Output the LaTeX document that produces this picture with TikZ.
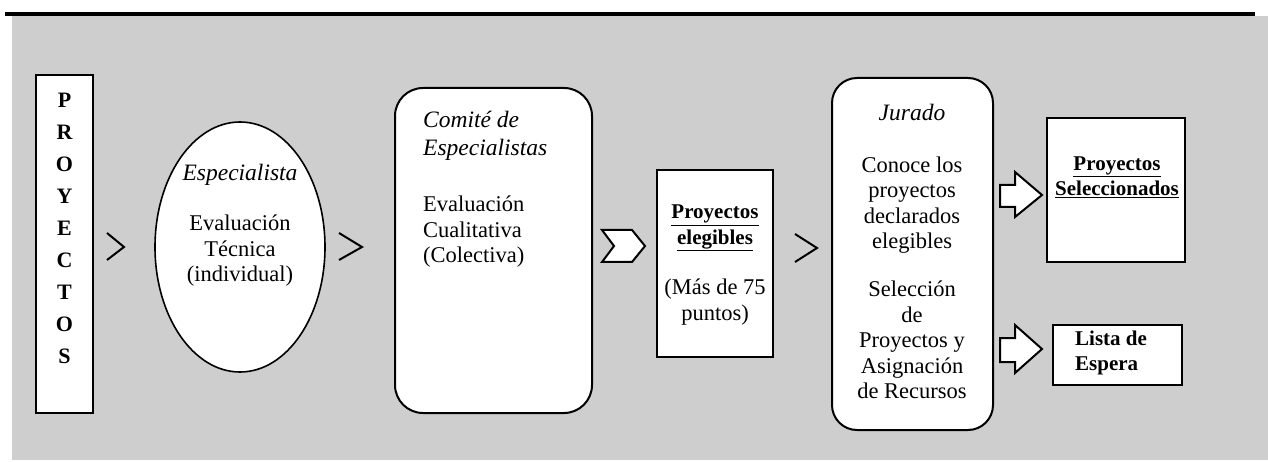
\documentclass[tikz,border=0pt]{standalone}
\usepackage{fontspec}
\setmainfont{Liberation Serif}
\usetikzlibrary{shapes.geometric}
\definecolor{bg}{RGB}{206,206,206}
\tikzset{
  boxstyle/.style={draw=black, fill=white, line width=2pt, inner sep=0pt},
  roundbox/.style={boxstyle, rounded corners=28pt},
  txt/.style={font=\fontsize{22.5}{25.5}\selectfont, inner sep=0pt},
  ittxt/.style={font=\fontsize{23.5}{28}\selectfont\itshape, inner sep=0pt},
  bftxt/.style={font=\fontsize{21}{25.5}\selectfont\bfseries, inner sep=0pt},
  chev/.style={draw=black, line width=2pt, line join=miter},
  blockarrow/.style={draw=black, fill=white, line width=2pt, line join=miter}
}
\begin{document}
\begin{tikzpicture}[x=1pt,y=-1pt]
\useasboundingbox (0,0) rectangle (1268,462);
\fill[bg] (12,16) rectangle (1268,460);
\draw[line width=4pt] (5,14) -- (1255,14);

% PROYECTOS
\node[boxstyle, minimum width=57pt, minimum height=338pt] (proy) at (64.5,244) {};
\node[bftxt, font=\fontsize{22}{32}\selectfont\bfseries, align=center] (proytxt) at (64.5,228) {P\\R\\O\\Y\\E\\C\\T\\O\\S};

% Especialista
\node[draw=black, fill=white, line width=1.6pt, ellipse, minimum width=170pt, minimum height=250pt] (esp) at (240,247) {};
\node[ittxt] (esptitle) at (240,175) {Especialista};
\node[txt, align=center] (esptxt) at (240,251) {Evaluación\\Técnica\\(individual)};

% Comite
\node[roundbox, minimum width=197pt, minimum height=325pt] (com) at (493.5,250.5) {};
\node[ittxt, align=left, anchor=west] (comtitle) at (423,136) {Comité de\\Especialistas};
\node[txt, align=left, anchor=west] (comtxt) at (423,232) {Evaluación\\Cualitativa\\(Colectiva)};

% Proyectos elegibles
\node[boxstyle, minimum width=116pt, minimum height=187pt] (eleg) at (715,263.5) {};
\node[bftxt, align=center] (elegtitle) at (715,228) {\underline{Proyectos}\\\underline{elegibles}};
\node[txt, align=center] (elegtxt) at (715,302) {(Más de 75\\puntos)};

% Jurado
\node[roundbox, rounded corners=25pt, minimum width=161pt, minimum height=352pt] (jur) at (912.5,254) {};
\node[ittxt] (jurtitle) at (912,112) {Jurado};
\node[txt, align=center] (jurtxt1) at (912,205) {Conoce los\\proyectos\\declarados\\elegibles};
\node[txt, align=center] (jurtxt2) at (912,340) {Selección\\de\\Proyectos y\\Asignación\\de Recursos};

% Proyectos seleccionados
\node[boxstyle, minimum width=138pt, minimum height=144pt] (sel) at (1116,190) {};
\node[bftxt, align=center] (seltxt) at (1117,177) {\underline{Proyectos}\\\underline{Seleccionados}};

% Lista de espera
\node[boxstyle, minimum width=129pt, minimum height=60pt] (lista) at (1117.5,355) {};
\node[bftxt, align=left, anchor=west] (listatxt) at (1075,353) {Lista de\\Espera};

% chevrons
\draw[chev] (107,233) -- (124,247) -- (107,260);
\draw[chev] (339,233) -- (362,247) -- (339,260);
\draw[chev] (795,234) -- (817,248) -- (795,262);

% notched arrow
\draw[blockarrow] (602,230) -- (632,230) -- (645,246) -- (632,262) -- (602,262) -- (614,246) -- cycle;

% block arrows
\draw[blockarrow] (1000,185) -- (1015,185) -- (1015,172) -- (1042,195) -- (1015,217) -- (1015,207) -- (1000,207) -- cycle;
\draw[blockarrow] (1000,338) -- (1015,338) -- (1015,325) -- (1042,349) -- (1015,373) -- (1015,362) -- (1000,362) -- cycle;
\end{tikzpicture}
\end{document}
